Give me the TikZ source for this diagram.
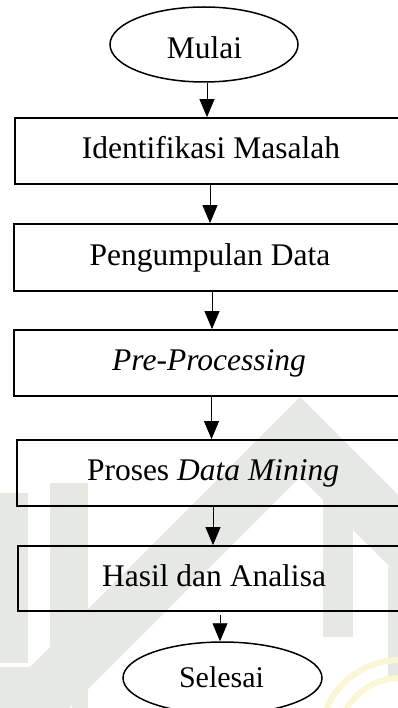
\documentclass[tikz,border=0pt]{standalone}
\usepackage{fontspec}
\setmainfont{Liberation Serif}
\usetikzlibrary{arrows.meta,shapes.geometric}
\definecolor{wm}{RGB}{229,232,227}
\definecolor{wmy}{RGB}{251,246,214}
\begin{document}
\begin{tikzpicture}[x=1pt,y=-1pt,
  box/.style={draw,line width=1.8pt,rectangle,inner sep=0pt,
    font=\fontsize{31.5}{36}\selectfont,text height=22pt,text depth=6.3pt},
  term/.style={draw,line width=1.5pt,ellipse,inner sep=0pt},
  lbl/.style={anchor=base,inner sep=0pt},
  arr/.style={line width=0.8pt,-{Triangle[width=15pt,length=18pt]}},
  wmark/.style={fill=wm,draw=none}]
\clip (0,0) rectangle (398,708);
\fill[white] (0,0) rectangle (398,708);
% faint watermark in the background
\fill[wmark] (0,697) -- (300,397) -- (398,495) -- (398,575) -- (300,477) -- (0,777) -- cycle;
\fill[wmark] (0,493) rectangle (28,663);
\fill[wmark] (50,483) rectangle (88,657);
\fill[wmark] (323,490) rectangle (353,637);
\fill[wmark] (388,567) rectangle (398,680);
\fill[wmark] (0,667) rectangle (30,708);
\fill[wmark] (50,672) rectangle (68,708);
\fill[wmark] (72,672) rectangle (88,708);
\draw[wmy,line width=6pt] (400,740) circle (62);
\draw[wmy,line width=6pt] (400,740) circle (80);
% flowchart
\node[term,minimum width=188pt,minimum height=75pt] (mulai) at (204,44.5) {};
\node[lbl,font=\fontsize{31.5}{36}\selectfont] (mulaitxt) at (204.5,59) {Mulai};
\node[box,minimum width=392pt,minimum height=66pt] (b1) at (211,151) {Identifikasi Masalah};
\node[box,minimum width=392pt,minimum height=67pt] (b2) at (210,257.5) {Pengumpulan Data};
\node[box,minimum width=390pt,minimum height=66pt] (b3) at (209,363) {\textit{Pre-Processing}};
\node[box,minimum width=392pt,minimum height=66pt] (b4) at (213,473) {Proses \textit{Data Mining}};
\node[box,minimum width=392pt,minimum height=65pt] (b5) at (214,578.5) {Hasil dan Analisa};
\node[term,minimum width=199pt,minimum height=72pt] (sel) at (222.5,678) {};
\node[lbl,font=\fontsize{30}{34}\selectfont] (seltxt) at (221.5,687) {Selesai};
\coordinate (c1) at (207,0);
\coordinate (c2) at (210,0);
\coordinate (c3) at (212,0);
\coordinate (c4) at (211.5,0);
\coordinate (c5) at (213,0);
\coordinate (c6) at (220,0);
\draw[arr] (mulai.south -| c1) -- (b1.north -| c1);
\draw[arr] (b1.south -| c2) -- (b2.north -| c2);
\draw[arr] (b2.south -| c3) -- (b3.north -| c3);
\draw[arr] (b3.south -| c4) -- (b4.north -| c4);
\draw[arr] (b4.south -| c5) -- (b5.north -| c5);
\draw[arr] ([yshift=-3pt]b5.south -| c6) -- (sel.north -| c6);
\end{tikzpicture}
\end{document}
